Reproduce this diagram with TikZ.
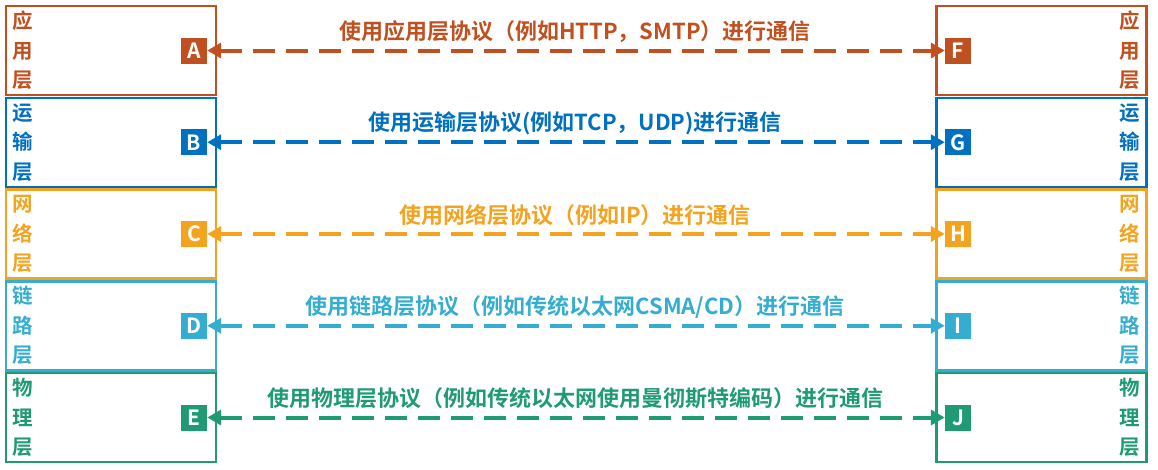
\documentclass[tikz,border=0pt]{standalone}
\usepackage{fontspec}
\setmainfont{Noto Sans CJK SC}
\newfontfamily\cjkb{Noto Sans CJK SC Bold}
\usetikzlibrary{arrows.meta}
\definecolor{cA}{HTML}{C0501F}
\definecolor{cB}{HTML}{0070C0}
\definecolor{cC}{HTML}{F4A31F}
\definecolor{cD}{HTML}{35ADD0}
\definecolor{cE}{HTML}{1F9B73}
\tikzset{
  layerbox/.style={draw=#1, line width=2.5pt, minimum width=210pt, minimum height=89pt, inner sep=0pt},
  tag/.style={fill=#1, text=white, minimum size=26pt, inner sep=0pt, font=\cjkb\fontsize{21}{21}\selectfont},
  layertext/.style={text=#1, align=center, inner sep=0pt, font=\cjkb\fontsize{20.5}{29.5}\selectfont},
  msg/.style={text=#1, inner sep=0pt, font=\cjkb\fontsize{22}{24}\selectfont},
  link/.style={draw=#1, line width=4pt, dash pattern=on 22pt off 11pt, {Triangle[length=14pt,width=15pt]}-{Triangle[length=14pt,width=15pt]}, shorten <=0pt, shorten >=0pt}
}
\begin{document}
\begin{tikzpicture}[x=1pt,y=-1pt]
\useasboundingbox (0,0) rectangle (1158,469);
\foreach \i/\c/\l/\r/\t/\m in {
  0/cA/A/F/{应\\用\\层}/{使用应用层协议（例如HTTP，SMTP）进行通信},
  1/cB/B/G/{运\\输\\层}/{使用运输层协议(例如TCP，UDP)进行通信},
  2/cC/C/H/{网\\络\\层}/{使用网络层协议（例如IP）进行通信},
  3/cD/D/I/{链\\路\\层}/{使用链路层协议（例如传统以太网CSMA/CD）进行通信},
  4/cE/E/J/{物\\理\\层}/{使用物理层协议（例如传统以太网使用曼彻斯特编码）进行通信}}{
  \pgfmathsetmacro{\y}{50.5+91.75*\i}
  \node[layerbox=\c] (L\l) at (111,\y) {};
  \node[layerbox=\c] (R\r) at (1041.5,\y) {};
  \node[layertext=\c] (LT\l) at (23,\y) {\t};
  \node[layertext=\c] (RT\r) at (1130,\y) {\t};
  \node[tag=\c] (\l) at (194,\y) {\l};
  \node[tag=\c] (\r) at (958,\y) {\r};
  \node[msg=\c] (M\l) at (575,\y-19) {\m};
  \draw[link=\c] (\l) -- (\r);
}
\end{tikzpicture}
\end{document}
